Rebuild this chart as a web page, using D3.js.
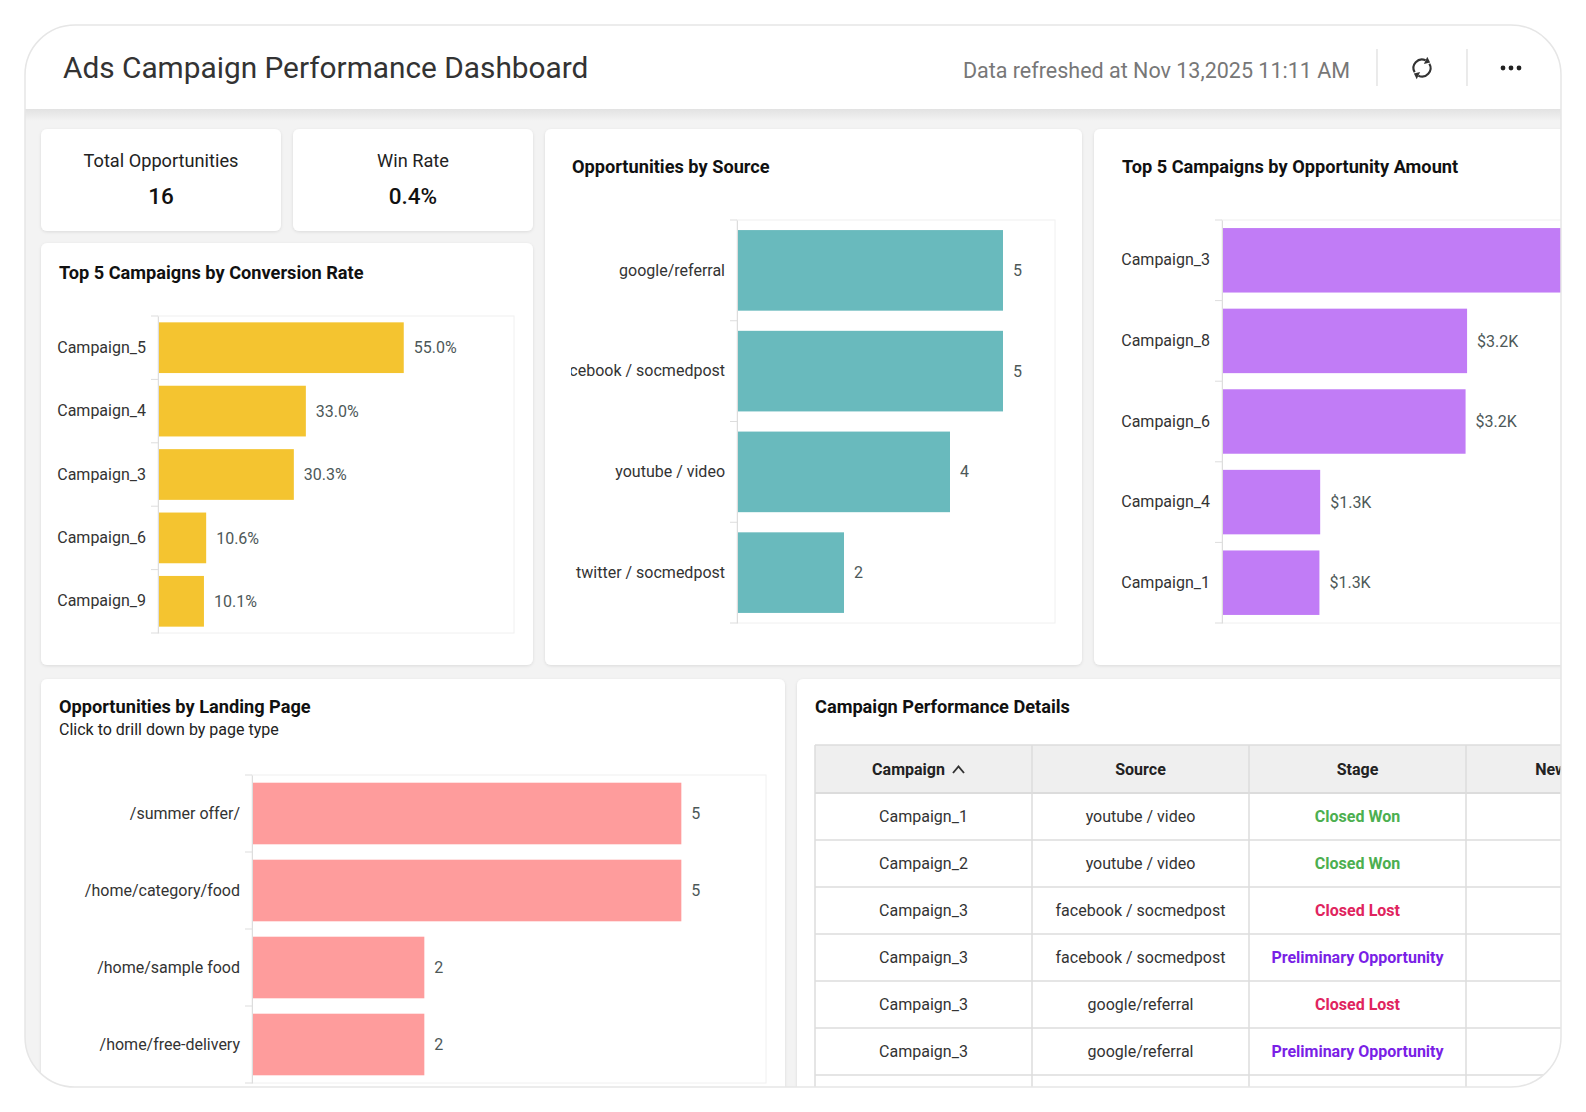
<!DOCTYPE html>
<html>
<head>
<meta charset="utf-8">
<script src="https://cdn.jsdelivr.net/npm/d3@7"></script>
<style>
  html, body { margin: 0; padding: 0; background: #fff; }
  svg { display: block; font-family: Roboto, "Noto Sans", sans-serif; }
</style>
</head>
<body>
<div id="canvas"></div>
<script>
const W = 1586, H = 1112;

// ---- data ----
const convCampaigns = ['Campaign_5', 'Campaign_4', 'Campaign_3', 'Campaign_6', 'Campaign_9'];
const convRates = [55.0, 33.0, 30.3, 10.6, 10.1];
const convMax = 80;

const sourceNames = ['google/referral', 'facebook / socmedpost', 'youtube / video', 'twitter / socmedpost'];
const sourceCounts = [5, 5, 4, 2];
const sourceMax = 6;

const amountCampaigns = ['Campaign_3', 'Campaign_8', 'Campaign_6', 'Campaign_4', 'Campaign_1'];
const amounts = [4850, 3240, 3220, 1290, 1280];
const amountMax = 6000;

const landingPages = ['/summer offer/', '/home/category/food', '/home/sample food', '/home/free-delivery'];
const landingCounts = [5, 5, 2, 2];
const landingMax = 6;

const tableColumns = ['Campaign', 'Source', 'Stage', 'New Leads'];
const rowCampaigns = ['Campaign_1', 'Campaign_2', 'Campaign_3', 'Campaign_3', 'Campaign_3', 'Campaign_3'];
const rowSources = ['youtube / video', 'youtube / video', 'facebook / socmedpost', 'facebook / socmedpost', 'google/referral', 'google/referral'];
const rowStages = ['Closed Won', 'Closed Won', 'Closed Lost', 'Preliminary Opportunity', 'Closed Lost', 'Preliminary Opportunity'];

const kpiLabels = ['Total Opportunities', 'Win Rate'];
const kpiValues = ['16', '0.4%'];

const stageColor = {
  'Closed Won': '#4caf50',
  'Closed Lost': '#e0245e',
  'Preliminary Opportunity': '#7a1fe6'
};

const svg = d3.select('#canvas').append('svg')
    .attr('width', W)
    .attr('height', H);

const defs = svg.append('defs');

defs.append('clipPath').attr('id', 'frame')
  .append('rect')
    .attr('x', 25).attr('y', 25)
    .attr('width', 1536).attr('height', 1062)
    .attr('rx', 50);

const shadow = defs.append('filter').attr('id', 'shadow')
    .attr('x', '-10%').attr('y', '-10%').attr('width', '120%').attr('height', '120%');
shadow.append('feDropShadow')
    .attr('dx', 0).attr('dy', 1).attr('stdDeviation', 1.5)
    .attr('flood-color', '#000').attr('flood-opacity', 0.1);

const hdrGrad = defs.append('linearGradient').attr('id', 'hdrshade')
    .attr('x1', 0).attr('y1', 0).attr('x2', 0).attr('y2', 1);
hdrGrad.append('stop').attr('offset', '0%').attr('stop-color', '#e2e2e2');
hdrGrad.append('stop').attr('offset', '100%').attr('stop-color', '#f3f3f3');

const frame = svg.append('g').attr('clip-path', 'url(#frame)');

// background of the dashboard body
frame.append('rect')
    .attr('x', 25).attr('y', 25).attr('width', 1536).attr('height', 1062)
    .attr('fill', '#f3f3f3');

// header band
frame.append('rect')
    .attr('x', 25).attr('y', 109).attr('width', 1536).attr('height', 12)
    .attr('fill', 'url(#hdrshade)');
frame.append('rect')
    .attr('x', 25).attr('y', 25).attr('width', 1536).attr('height', 84)
    .attr('fill', '#fff');

frame.append('text')
    .attr('x', 63).attr('y', 78)
    .attr('font-size', 29.8)
    .attr('fill', '#333')
    .text('Ads Campaign Performance Dashboard');

frame.append('text')
    .attr('x', 1350).attr('y', 78)
    .attr('text-anchor', 'end')
    .attr('font-size', 21.5)
    .attr('fill', '#777')
    .text('Data refreshed at Nov 13,2025 11:11 AM');

[1377, 1467].forEach(x => {
  frame.append('line')
      .attr('x1', x).attr('x2', x).attr('y1', 49).attr('y2', 86)
      .attr('stroke', '#ddd').attr('stroke-width', 1.2);
});

// refresh icon: two arcs with arrowheads
const icon = frame.append('g').attr('transform', 'translate(1422,68)');
const r = 8.5;
const rad = a => a * Math.PI / 180;
[[-120, 25], [60, 205]].forEach(([a0, a1]) => {
  icon.append('path')
      .attr('d', d3.arc().innerRadius(r).outerRadius(r).startAngle(rad(a0)).endAngle(rad(a1))())
      .attr('fill', 'none').attr('stroke', '#333').attr('stroke-width', 2.1);
  const px = r * Math.sin(rad(a1)), py = -r * Math.cos(rad(a1));
  const tx = Math.cos(rad(a1)), ty = Math.sin(rad(a1));
  const nx = -ty, ny = tx;
  icon.append('path')
      .attr('d', 'M' + (px + tx * 5) + ',' + (py + ty * 5) +
                 ' L' + (px + nx * 4) + ',' + (py + ny * 4) +
                 ' L' + (px - nx * 4) + ',' + (py - ny * 4) + 'Z')
      .attr('fill', '#333');
});

// more dots
[-8, 0, 8].forEach(dx => {
  frame.append('circle')
      .attr('cx', 1511 + dx).attr('cy', 68).attr('r', 2.4)
      .attr('fill', '#222');
});

// ---- cards ----
function card(x, y, w, h) {
  const g = frame.append('g');
  g.append('rect')
      .attr('x', x).attr('y', y).attr('width', w).attr('height', h)
      .attr('rx', 6)
      .attr('fill', '#fff')
      .attr('filter', 'url(#shadow)');
  return g;
}

function cardTitle(g, x, y, t) {
  g.append('text')
      .attr('x', x).attr('y', y)
      .attr('font-size', 18.2)
      .attr('font-weight', 700)
      .attr('fill', '#111')
      .text(t);
}

// KPI cards
kpiLabels.forEach((lab, i) => {
  const x = 41 + i * 252;
  const g = card(x, 129, 240, 102);
  g.append('text')
      .attr('x', x + 120).attr('y', 167)
      .attr('text-anchor', 'middle')
      .attr('font-size', 18.2)
      .attr('fill', '#222')
      .text(lab);
  g.append('text')
      .attr('x', x + 120).attr('y', 204)
      .attr('text-anchor', 'middle')
      .attr('font-size', 22.5)
      .attr('font-weight', 500)
      .attr('fill', '#111')
      .text(kpiValues[i]);
});

// horizontal bar chart
function barChart(g, opts) {
  const {cats, vals, max, left, right, top, bottom, color, fmt, clipX} = opts;
  const x = d3.scaleLinear()
      .domain([0, max])
      .range([left, left + opts.width]);
  const y = d3.scaleBand()
      .domain(cats)
      .range([top, bottom])
      .paddingInner(0.2)
      .paddingOuter(0.1);

  let root = g;
  if (clipX !== undefined) {
    const id = 'clip' + Math.round(left);
    defs.append('clipPath').attr('id', id)
      .append('rect')
        .attr('x', clipX).attr('y', top - 20)
        .attr('width', 2000).attr('height', bottom - top + 40);
    root = g.append('g').attr('clip-path', 'url(#' + id + ')');
  }

  root.append('rect')
      .attr('x', left).attr('y', top)
      .attr('width', right - left).attr('height', bottom - top)
      .attr('fill', '#fff')
      .attr('stroke', '#f0f0f0');

  root.selectAll('rect.bar')
    .data(cats)
    .join('rect')
      .attr('class', 'bar')
      .attr('x', x(0) + 1)
      .attr('y', d => y(d))
      .attr('width', (d, i) => x(vals[i]) - x(0))
      .attr('height', y.bandwidth())
      .attr('fill', color);

  root.selectAll('text.val')
    .data(cats)
    .join('text')
      .attr('class', 'val')
      .attr('x', (d, i) => x(vals[i]) + 11)
      .attr('y', d => y(d) + y.bandwidth() / 2)
      .attr('dy', '0.35em')
      .attr('font-size', 16)
      .attr('fill', '#4d5858')
      .text((d, i) => fmt(vals[i]));

  const axis = root.append('g')
      .attr('transform', 'translate(' + left + ',0)')
      .call(d3.axisLeft(y).tickSize(0).tickPadding(12));
  axis.select('.domain').attr('stroke', '#ddd');
  axis.selectAll('text')
      .attr('font-size', 16)
      .attr('font-family', 'Roboto, sans-serif')
      .attr('fill', '#333');

  // ticks on band boundaries
  const bounds = d3.range(cats.length + 1).map(i => top + i * y.step());
  root.selectAll('line.btick')
    .data(bounds)
    .join('line')
      .attr('class', 'btick')
      .attr('x1', left - 7).attr('x2', left)
      .attr('y1', d => d).attr('y2', d => d)
      .attr('stroke', '#ddd');
}

// conversion rate
const gConv = card(41, 243, 492, 422);
cardTitle(gConv, 59, 279, 'Top 5 Campaigns by Conversion Rate');
barChart(gConv, {
  cats: convCampaigns, vals: convRates, max: convMax,
  left: 158, right: 514, width: 356, top: 316, bottom: 633,
  color: '#f4c430', fmt: v => v.toFixed(1) + '%'
});

// source
const gSrc = card(545, 129, 537, 536);
cardTitle(gSrc, 572, 173, 'Opportunities by Source');
barChart(gSrc, {
  cats: sourceNames, vals: sourceCounts, max: sourceMax,
  left: 737, right: 1055, width: 318, top: 220, bottom: 623,
  color: '#69babd', fmt: v => String(v), clipX: 571
});

// amount
const gAmt = card(1094, 129, 620, 536);
cardTitle(gAmt, 1122, 173, 'Top 5 Campaigns by Opportunity Amount');
barChart(gAmt, {
  cats: amountCampaigns, vals: amounts, max: amountMax,
  left: 1222, right: 1700, width: 452, top: 220, bottom: 623,
  color: '#c17cf6', fmt: v => '$' + (v / 1000).toFixed(1) + 'K'
});

// landing page
const gLand = card(41, 679, 744, 450);
cardTitle(gLand, 59, 713, 'Opportunities by Landing Page');
gLand.append('text')
    .attr('x', 59).attr('y', 735)
    .attr('font-size', 16)
    .attr('fill', '#222')
    .text('Click to drill down by page type');
barChart(gLand, {
  cats: landingPages, vals: landingCounts, max: landingMax,
  left: 252, right: 766, width: 514, top: 775, bottom: 1083,
  color: '#fe9c9c', fmt: v => String(v)
});

// ---- table ----
const gTab = card(797, 679, 900, 450);
cardTitle(gTab, 815, 713, 'Campaign Performance Details');

const colX = d3.scaleBand().domain(tableColumns).range([815, 815 + 217 * 4]);
const headTop = 745, headH = 48, rowH = 47;
const rows = rowCampaigns.map((c, i) => [c, rowSources[i], rowStages[i], '']);
const rowY = d3.scaleBand().domain(d3.range(rows.length + 1)).range([headTop + headH, headTop + headH + rowH * (rows.length + 1)]);

gTab.append('rect')
    .attr('x', 815).attr('y', headTop)
    .attr('width', 217 * 4).attr('height', headH)
    .attr('fill', '#efefef');
gTab.append('line')
    .attr('x1', 815).attr('x2', 815 + 217 * 4)
    .attr('y1', headTop).attr('y2', headTop)
    .attr('stroke', '#dcdcdc').attr('stroke-width', 1.5);

gTab.selectAll('text.head')
  .data(tableColumns)
  .join('text')
    .attr('class', 'head')
    .attr('x', d => colX(d) + colX.bandwidth() / 2 - (d === 'Campaign' ? 15 : 0))
    .attr('y', headTop + headH / 2)
    .attr('dy', '0.35em')
    .attr('text-anchor', 'middle')
    .attr('font-size', 16)
    .attr('font-weight', 700)
    .attr('fill', '#222')
    .text(d => d);

// sort caret
gTab.append('path')
    .attr('d', 'M' + (colX('Campaign') + 138) + ',' + (headTop + 28) + ' l5.5,-6.5 l5.5,6.5')
    .attr('fill', 'none').attr('stroke', '#333').attr('stroke-width', 1.9);

const rowG = gTab.selectAll('g.row')
  .data(rows)
  .join('g')
    .attr('class', 'row');

rowG.selectAll('text')
  .data(d => d.map((v, j) => ({v, col: tableColumns[j]})))
  .join('text')
    .attr('x', d => colX(d.col) + colX.bandwidth() / 2)
    .attr('y', function(d) {
      const i = rows.indexOf(d3.select(this.parentNode).datum());
      return rowY(i) + rowH / 2;
    })
    .attr('dy', '0.35em')
    .attr('text-anchor', 'middle')
    .attr('font-size', 16)
    .attr('font-weight', d => d.col === 'Stage' ? 700 : 400)
    .attr('fill', d => d.col === 'Stage' ? stageColor[d.v] : '#333')
    .text(d => d.v);

// grid lines
gTab.selectAll('line.hrow')
  .data(d3.range(rows.length + 2))
  .join('line')
    .attr('class', 'hrow')
    .attr('x1', 815).attr('x2', 815 + 217 * 4)
    .attr('y1', i => headTop + headH + i * rowH)
    .attr('y2', i => headTop + headH + i * rowH)
    .attr('stroke', '#dcdcdc').attr('stroke-width', i => i === 0 ? 2 : 1.5);

gTab.selectAll('line.vcol')
  .data(d3.range(tableColumns.length + 1))
  .join('line')
    .attr('class', 'vcol')
    .attr('x1', i => 815 + i * 217).attr('x2', i => 815 + i * 217)
    .attr('y1', headTop).attr('y2', 1100)
    .attr('stroke', '#dcdcdc').attr('stroke-width', 1.5);

// outer frame border
svg.append('rect')
    .attr('x', 25).attr('y', 25).attr('width', 1536).attr('height', 1062)
    .attr('rx', 50)
    .attr('fill', 'none')
    .attr('stroke', '#e6e6e6')
    .attr('stroke-width', 1.5);
</script>
</body>
</html>
